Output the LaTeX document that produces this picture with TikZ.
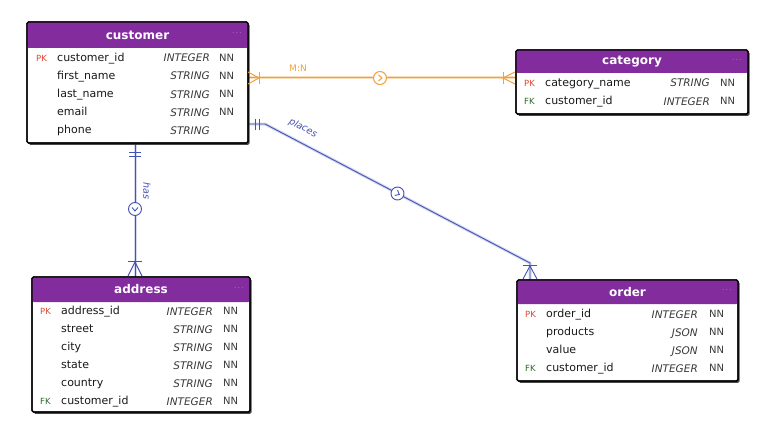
\documentclass[tikz,border=0pt]{standalone}
\usepackage{fontspec}
\setmainfont{DejaVu Sans}
\usetikzlibrary{shadows,calc}
\definecolor{hdr}{HTML}{822C9E}
\definecolor{pkred}{HTML}{E0452F}
\definecolor{fkgreen}{HTML}{2D6A2D}
\definecolor{oline}{HTML}{F2A03A}
\definecolor{bline}{HTML}{4352B5}
\definecolor{typegray}{HTML}{3A3A3A}
\newcommand\pkm{\textcolor{pkred}{PK}}
\newcommand\fkm{\textcolor{fkgreen}{FK}}
\begin{document}
\begin{tikzpicture}[x=1pt,y=-1pt,
 tbox/.style={draw=black, line width=1.1pt, fill=white, rounded corners=1.5pt, anchor=north west, inner sep=0pt, outer sep=0pt,
   drop shadow={shadow xshift=1.6pt, shadow yshift=-1.8pt, fill=black!80, opacity=0.9}},
 tline/.style={draw=black, line width=1.1pt, rounded corners=1.5pt},
 hbox/.style={fill=hdr, rounded corners=2pt, anchor=north west, inner sep=0pt, outer sep=0pt},
 htext/.style={text=white, font=\fontsize{12}{14}\selectfont\bfseries, inner sep=0pt},
 hdots/.style={text=white!80!hdr, font=\fontsize{7}{8}\selectfont, inner sep=0pt},
 keyt/.style={anchor=west, inner sep=0pt, font=\fontsize{8.5}{10}\selectfont, text height=6pt, text depth=1pt},
 namet/.style={anchor=west, inner sep=0pt, font=\fontsize{11}{13}\selectfont, text=black!90, text height=8pt, text depth=2.5pt},
 typet/.style={anchor=east, inner sep=0pt, font=\fontsize{10.5}{12}\selectfont\itshape, text=typegray, text height=7.5pt, text depth=1.5pt},
 nnt/.style={anchor=west, inner sep=0pt, font=\fontsize{10}{12}\selectfont, text=typegray, text height=7.3pt, text depth=1.5pt},
 oconn/.style={draw=oline, line width=1pt},
 bconn/.style={draw=bline, line width=0.9pt},
 ohalo/.style={draw=oline!35, line width=3pt},
 bhalo/.style={draw=bline!22, line width=3pt},
 ocirc/.style={circle, draw=oline, line width=1pt, fill=white, minimum size=13pt, inner sep=0pt},
 bcirc/.style={circle, draw=bline, line width=0.9pt, fill=white, minimum size=13pt, inner sep=0pt},
 olabel/.style={text=oline, font=\fontsize{9}{10}\selectfont, inner sep=0pt},
 blabel/.style={text=bline, font=\fontsize{9.5}{11}\selectfont\itshape, inner sep=0pt}
]
\useasboundingbox[fill=white] (0,0) rectangle (771,436);

% ---------------- connectors (drawn first) ----------------
\coordinate (oa) at (248,78);
\coordinate (ob) at (515,78);
\coordinate (pa) at (248,124);
\coordinate (pb) at (265,124);
\coordinate (pc) at (530,263);
\coordinate (pd) at (530,280);
\coordinate (ha) at (135,143);
\coordinate (hb) at (135,277);

\draw[ohalo] (oa) -- (ob);
\draw[oconn] (oa) -- (ob);
\draw[bhalo] (pa) -- (pb) -- (pc) -- (pd);
\draw[bconn] (pa) -- (pb) -- (pc) -- (pd);
\draw[bhalo] (ha) -- (hb);
\draw[bconn] (ha) -- (hb);

% ---------------- customer ----------------
\node[tbox, minimum width=221pt, minimum height=121pt] (cust) at (27,22) {};
\node[hbox, minimum width=221pt, minimum height=26pt] (custh) at (27,22) {};
\draw[tline] (cust.north west) rectangle (cust.south east);
\node[htext] (custt) at (custh.center) {customer};
\node[hdots] (custd) at ($(custh.east)+(-11,-2)$) {$\cdots$};
\foreach \y/\rk/\rn/\rt/\rz [count=\i] in {59/\pkm/customer\_id/INTEGER/NN, 77/{}/first\_name/STRING/NN, 95/{}/last\_name/STRING/NN, 113/{}/email/STRING/NN, 131/{}/phone/STRING/{}}{
  \node[keyt] (cust-k\i) at (36,\y) {\rk};
  \node[namet] (cust-n\i) at (57,\y) {\rn};
  \node[typet] (cust-t\i) at (210,\y) {\rt};
  \node[nnt] (cust-z\i) at (219,\y) {\rz};
}

% ---------------- category ----------------
\node[tbox, minimum width=232pt, minimum height=64pt] (cat) at (516,50) {};
\node[hbox, minimum width=232pt, minimum height=23pt] (cath) at (516,50) {};
\draw[tline] (cat.north west) rectangle (cat.south east);
\node[htext] (catt) at (cath.center) {category};
\node[hdots] (catd) at ($(cath.east)+(-11,-2)$) {$\cdots$};
\foreach \y/\rk/\rn/\rt/\rz [count=\i] in {84/\pkm/category\_name/STRING/NN, 102/\fkm/customer\_id/INTEGER/NN}{
  \node[keyt] (cat-k\i) at (524,\y) {\rk};
  \node[namet] (cat-n\i) at (545,\y) {\rn};
  \node[typet] (cat-t\i) at (710,\y) {\rt};
  \node[nnt] (cat-z\i) at (720,\y) {\rz};
}

% ---------------- address ----------------
\node[tbox, minimum width=218pt, minimum height=135pt] (addr) at (32,277) {};
\node[hbox, minimum width=218pt, minimum height=25pt] (addrh) at (32,277) {};
\draw[tline] (addr.north west) rectangle (addr.south east);
\node[htext] (addrt) at (addrh.center) {address};
\node[hdots] (addrd) at ($(addrh.east)+(-11,-2)$) {$\cdots$};
\foreach \y/\rk/\rn/\rt/\rz [count=\i] in {312/\pkm/address\_id/INTEGER/NN, 330/{}/street/STRING/NN, 348/{}/city/STRING/NN, 366/{}/state/STRING/NN, 384/{}/country/STRING/NN, 402/\fkm/customer\_id/INTEGER/NN}{
  \node[keyt] (addr-k\i) at (40,\y) {\rk};
  \node[namet] (addr-n\i) at (61,\y) {\rn};
  \node[typet] (addr-t\i) at (213,\y) {\rt};
  \node[nnt] (addr-z\i) at (223,\y) {\rz};
}

% ---------------- order ----------------
\node[tbox, minimum width=221pt, minimum height=101pt] (ord) at (517,280) {};
\node[hbox, minimum width=221pt, minimum height=24pt] (ordh) at (517,280) {};
\draw[tline] (ord.north west) rectangle (ord.south east);
\node[htext] (ordt) at (ordh.center) {order};
\node[hdots] (ordd) at ($(ordh.east)+(-11,-2)$) {$\cdots$};
\foreach \y/\rk/\rn/\rt/\rz [count=\i] in {315/\pkm/order\_id/INTEGER/NN, 333/{}/products/JSON/NN, 351/{}/value/JSON/NN, 369/\fkm/customer\_id/INTEGER/NN}{
  \node[keyt] (ord-k\i) at (525,\y) {\rk};
  \node[namet] (ord-n\i) at (546,\y) {\rn};
  \node[typet] (ord-t\i) at (698,\y) {\rt};
  \node[nnt] (ord-z\i) at (709,\y) {\rz};
}

% ---------------- connector ends ----------------
% M:N (orange)
\draw[oconn] ($(oa)+(0,-6)$) -- ($(oa)+(11,0)$) -- ($(oa)+(0,6)$);
\draw[oconn] ($(oa)+(11,-6)$) -- ($(oa)+(11,6)$);
\draw[oconn] ($(ob)+(0,-6)$) -- ($(ob)+(-12,0)$) -- ($(ob)+(0,6)$);
\draw[oconn] ($(ob)+(-12,-6)$) -- ($(ob)+(-12,6)$);
\node[ocirc] (omid) at (380,78) {};
\draw[oconn] ($(omid)+(-1.5,-3)$) -- ($(omid)+(2,0)$) -- ($(omid)+(-1.5,3)$);
\node[olabel] (mn) at (298,68) {M:N};

% places (blue)
\draw[bconn] ($(pa)+(7,-5.5)$) -- ($(pa)+(7,5.5)$);
\draw[bconn] ($(pa)+(11,-5.5)$) -- ($(pa)+(11,5.5)$);
\draw[bconn] ($(pd)+(-7,-15)$) -- ($(pd)+(7,-15)$);
\draw[bconn] ($(pd)+(-7,-1)$) -- ($(pd)+(0,-14)$) -- ($(pd)+(7,-1)$);
\node[bcirc] (pmid) at ($(pb)!0.5!(pc)$) {};
\begin{scope}[shift={(pmid)}, rotate=-27.7]
  \draw[bconn] (-1.5,-3) -- (2,0) -- (-1.5,3);
\end{scope}
\node[blabel, rotate=-27.7] (pl) at (303,128) {places};

% has (blue)
\draw[bconn] ($(ha)+(-6,9)$) -- ($(ha)+(6,9)$);
\draw[bconn] ($(ha)+(-6,13)$) -- ($(ha)+(6,13)$);
\draw[bconn] ($(hb)+(-7,-16)$) -- ($(hb)+(7,-16)$);
\draw[bconn] ($(hb)+(-7,-1)$) -- ($(hb)+(0,-15)$) -- ($(hb)+(7,-1)$);
\node[bcirc] (hmid) at (135,209) {};
\draw[bconn] ($(hmid)+(-3,-1.5)$) -- ($(hmid)+(0,2)$) -- ($(hmid)+(3,-1.5)$);
\node[blabel, rotate=-90] (hl) at (147,191) {has};
\end{tikzpicture}
\end{document}
